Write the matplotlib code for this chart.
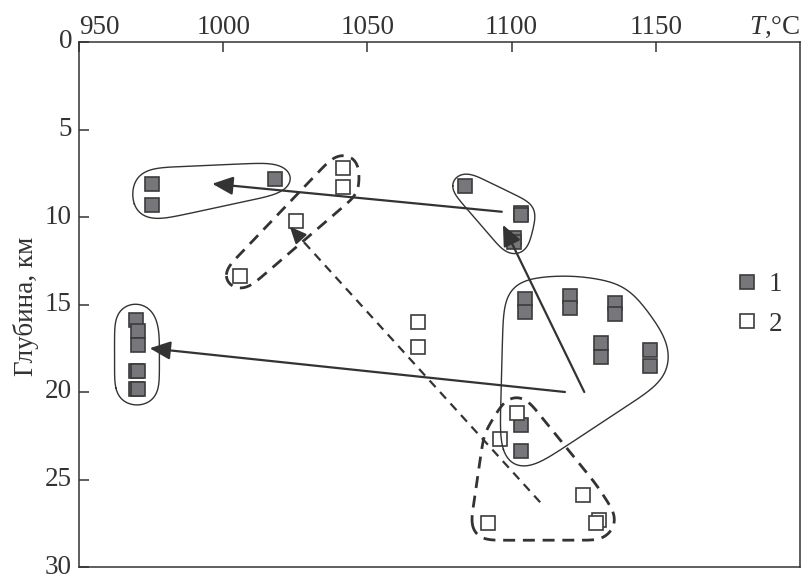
import numpy as np
import matplotlib
matplotlib.use("Agg")
import matplotlib.pyplot as plt

plt.rcParams['font.family'] = ['Liberation Serif', 'DejaVu Serif']
plt.rcParams['mathtext.fontset'] = 'custom'
plt.rcParams['mathtext.rm'] = 'Liberation Serif'
plt.rcParams['mathtext.it'] = 'Liberation Serif:italic'

# --- data: temperature (C) and depth (km) ---
# type 1 (filled squares), by cluster
t1_upper_left = [975.4, 975.4, 1017.9]
d1_upper_left = [8.1, 9.3, 7.8]
t1_upper_right = [1084.0, 1103.3, 1103.3, 1101.0, 1101.0]
d1_upper_right = [8.2, 9.75, 9.9, 11.2, 11.45]
t1_loop = [1104.5, 1104.5, 1120.3, 1120.3, 1136.0, 1136.0, 1130.9, 1130.9,
           1148.0, 1148.0, 1103.3, 1103.3]
d1_loop = [14.7, 15.4, 14.5, 15.2, 14.9, 15.55, 17.2, 18.0,
           17.6, 18.5, 21.9, 23.35]
t1_left = [969.6, 970.6, 970.6, 969.6, 970.6, 969.6, 970.6]
d1_left = [15.9, 16.5, 17.3, 18.8, 18.8, 19.8, 19.8]

# type 2 (open squares), by cluster
t2_diag = [1041.6, 1041.6, 1025.2, 1005.9]
d2_diag = [7.2, 8.3, 10.2, 13.35]
t2_mid = [1067.6, 1067.6]
d2_mid = [16.0, 17.45]
t2_tri = [1101.7, 1096.1, 1124.8, 1091.8, 1130.3, 1129.4]
d2_tri = [21.2, 22.7, 25.9, 27.5, 27.3, 27.5]

# arrows (start -> end)
arrow_t0 = [1096.6, 1125.2, 1118.5]
arrow_d0 = [9.7, 20.0, 20.0]
arrow_t1 = [996.2, 1097.0, 974.5]
arrow_d1 = [8.1, 10.45, 17.5]
dash_arrow_t = [1109.9, 1023.1]
dash_arrow_d = [26.3, 10.55]

x_ticks = [950, 1000, 1050, 1100, 1150]
y_ticks = [0, 5, 10, 15, 20, 25, 30]

ink = '#333333'
fill = '#77777b'


def convex_hull(p):
    p = sorted(map(tuple, p))
    def cross(o, a, b):
        return (a[0]-o[0])*(b[1]-o[1]) - (a[1]-o[1])*(b[0]-o[0])
    lower, upper = [], []
    for q in p:
        while len(lower) >= 2 and cross(lower[-2], lower[-1], q) <= 0:
            lower.pop()
        lower.append(q)
    for q in reversed(p):
        while len(upper) >= 2 and cross(upper[-2], upper[-1], q) <= 0:
            upper.pop()
        upper.append(q)
    return np.array(lower[:-1] + upper[:-1])


def outline(ax, t, d, rx, ry, smooth=10, **kw):
    # rounded hull around the group, padded in pixels, then softened
    pts = ax.transData.transform(np.column_stack([t, d]))
    ang = np.linspace(0, 2*np.pi, 48, endpoint=False)
    ring = np.column_stack([np.cos(ang)*rx, np.sin(ang)*ry])
    cloud = (pts[:, None, :] + ring[None, :, :]).reshape(-1, 2)
    h = convex_hull(cloud)
    h = np.vstack([h, h[:1]])
    # resample by arc length
    seg = np.hypot(*np.diff(h, axis=0).T)
    s = np.concatenate([[0], np.cumsum(seg)])
    n = 600
    u = np.linspace(0, s[-1], n, endpoint=False)
    h = np.column_stack([np.interp(u, s, h[:, 0]), np.interp(u, s, h[:, 1])])
    step = s[-1] / n
    k = np.arange(-3*smooth, 3*smooth + step, step)
    w = np.exp(-0.5*(k/smooth)**2)
    w /= w.sum()
    m = len(k) // 2
    hs = np.zeros_like(h)
    for j, wj in enumerate(w):
        hs += wj*np.roll(h, j - m, axis=0)
    hs = np.vstack([hs, hs[:1]])
    hs = ax.transData.inverted().transform(hs)
    ax.plot(hs[:, 0], hs[:, 1], color=ink, zorder=3, **kw)


fig = plt.figure(figsize=(8.03, 5.78), dpi=100)
ax = fig.add_axes([79/803, 11/578, 721/803, 525/578])
ax.set_xlim(950, 1200)
ax.set_ylim(30, 0)

ax.xaxis.tick_top()
ax.set_xticks(x_ticks, [str(v) for v in x_ticks])
ax.set_yticks(y_ticks)
ax.tick_params(axis='x', direction='in', length=7, width=1.1, pad=1.5,
               labelsize=19.5, colors=ink, top=True, bottom=False)
ax.tick_params(axis='y', direction='in', length=7, width=1.1, pad=5,
               labelsize=19.5, colors=ink, left=True, right=False)
ax.get_xticklabels()[0].set_horizontalalignment('left')
for lab in ax.get_yticklabels():
    lab.set_verticalalignment('center')
for s in ax.spines.values():
    s.set_color(ink)
    s.set_linewidth(1.1)

ax.set_ylabel('Глубина, км', fontsize=19.5, color=ink)
ax.yaxis.set_label_coords(-0.055, 0.497)
ax.annotate('$T$,°C', xy=(1, 1), xycoords='axes fraction', xytext=(0, 1.5),
            textcoords='offset points', ha='right', va='bottom',
            fontsize=19.5, color=ink)

# squares
mk = dict(ls='none', marker='s', ms=10.5, mew=1.2, mec='#3c3c3c', zorder=2)
first = True
for t, d in [(t1_upper_left, d1_upper_left), (t1_upper_right, d1_upper_right),
             (t1_loop, d1_loop), (t1_left, d1_left)]:
    for ti, di in zip(t, d):
        ax.plot([ti], [di], mfc=fill, label='1' if first else None, **mk)
        first = False
first = True
for t, d in [(t2_diag, d2_diag), (t2_mid, d2_mid), (t2_tri, d2_tri)]:
    for ti, di in zip(t, d):
        ax.plot([ti], [di], mfc='white', label='2' if first else None, **mk)
        first = False

# outlines
outline(ax, t1_upper_left, d1_upper_left, 21, 16, smooth=14, lw=1.0)
outline(ax, t1_upper_right, d1_upper_right, 15, 13, smooth=8, lw=1.0)
outline(ax, t1_loop, d1_loop, 21, 21, smooth=18, lw=1.0)
outline(ax, t1_left, d1_left, 21, 18, smooth=10, lw=1.0)
outline(ax, t2_diag, d2_diag, 16, 14, smooth=8, lw=2.0, dashes=(4.3, 2.8))
outline(ax, t2_tri, d2_tri, 17, 17, smooth=8, lw=2.0, dashes=(4.3, 2.8))

# arrows
head = dict(arrowstyle='-|>,head_length=0.45,head_width=0.2', color=ink,
            lw=1.6, mutation_scale=28, shrinkA=0, shrinkB=0)
for x0, y0, x1, y1 in zip(arrow_t0, arrow_d0, arrow_t1, arrow_d1):
    ax.annotate('', xy=(x1, y1), xytext=(x0, y0), arrowprops=head, zorder=4)

ax.plot(dash_arrow_t, dash_arrow_d, color=ink, lw=1.6, dashes=(4, 3), zorder=4)
x0, x1 = dash_arrow_t
y0, y1 = dash_arrow_d
ax.annotate('', xy=(x1, y1), xytext=(x1 + 0.02*(x0-x1), y1 + 0.02*(y0-y1)),
            arrowprops=dict(head, mutation_scale=22), zorder=4)

ax.legend(loc='center left', bbox_to_anchor=(0.915, 0.5), frameon=False,
          fontsize=19.5, handlelength=0.6, handletextpad=0.5,
          labelspacing=0.55, borderpad=0, borderaxespad=0, labelcolor=ink)

fig.savefig('out.png', dpi=100)
